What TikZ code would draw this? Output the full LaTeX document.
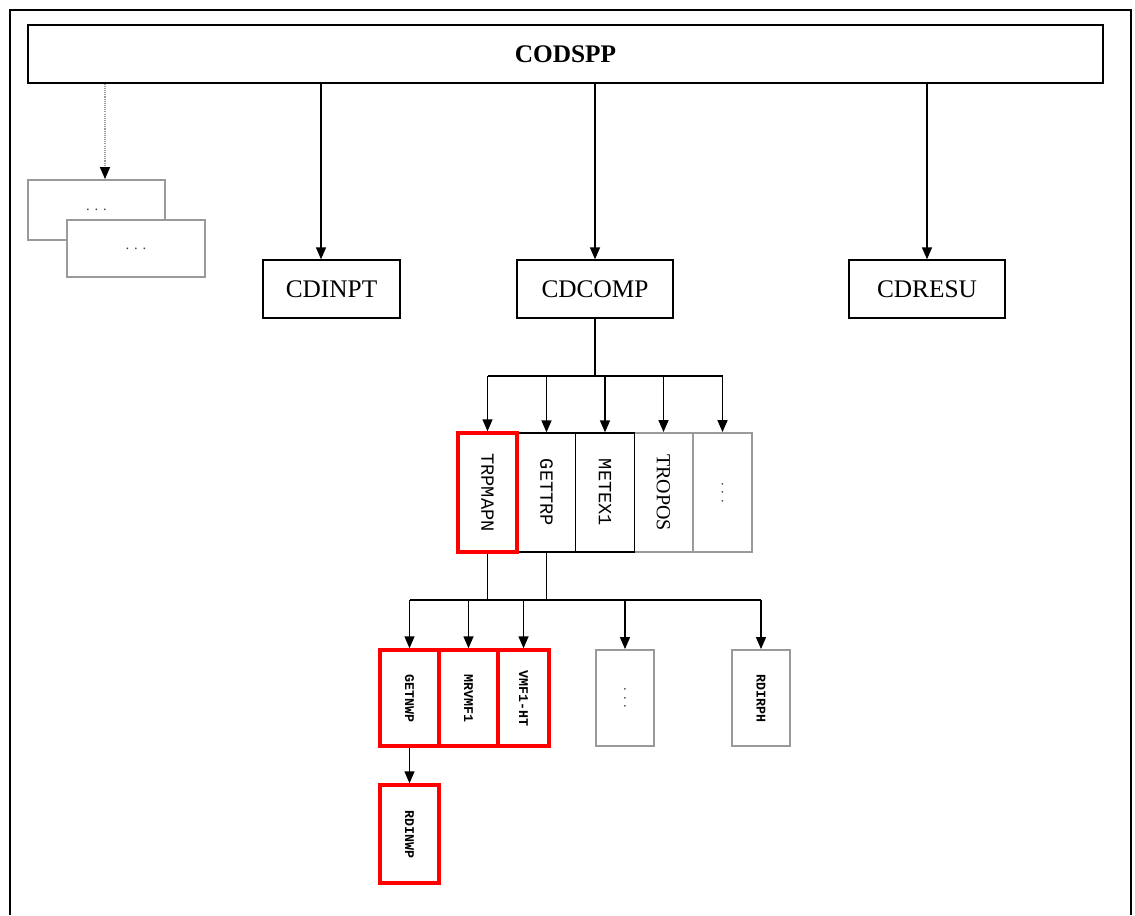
\documentclass[tikz,border=0pt]{standalone}
\usepackage{fontspec}
\setmainfont{Liberation Serif}
\setmonofont{Liberation Mono}
\usetikzlibrary{positioning,arrows.meta,calc}
\definecolor{boxred}{HTML}{FF0000}
\definecolor{boxgray}{HTML}{9A9A9A}

\begin{document}
\begin{tikzpicture}[x=0.75pt,y=-0.75pt,
    sz/.style 2 args={minimum width=#1*0.75pt,minimum height=#2*0.75pt},
    box/.style={draw,line width=1pt,inner sep=0pt,fill=white},
    greybox/.style={box,draw=boxgray,line width=1.4pt},
    redbox/.style={box,draw=boxred,line width=2.6pt},
    link/.style={line width=1.1pt},
    arr/.style={link,-{Triangle[length=9pt,width=7.5pt,color=black,fill=black]}},
    big/.style={font=\fontsize{19}{19}\selectfont},
    mid/.style={font=\ttfamily\fontsize{14}{14}\selectfont},
    small/.style={font=\ttfamily\bfseries\fontsize{10}{10}\selectfont},
    dots/.style={font=\fontsize{11}{11}\selectfont,text=black!75}]
  \useasboundingbox (0,0) rectangle (1135,915);
  \draw[line width=0.9pt] (10,915)--(10,10)--(1131,10)--(1131,915);

  % main program and first level
  \node[box,sz={1075}{58},font=\bfseries\fontsize{19}{19}\selectfont] (codspp) at (565.5,54) {CODSPP};
  \node[greybox,sz={137}{60},dots] (d1) at (96.5,210) {. . .};
  \node[greybox,sz={138}{57},dots] (d2) at (136,248.5) {. . .};
  \node[box,sz={137}{58},big] (inpt) at (331.5,289) {CDINPT};
  \node[box,sz={156}{58},big] (comp) at (595,289) {CDCOMP};
  \node[box,sz={156}{58},big] (resu) at (927,289) {CDRESU};

  % second level
  \node[greybox,sz={59}{119},font=\rmfamily\fontsize{15}{15}\selectfont] (tro) at (663.5,492.5) {\rotatebox{-90}{TROPOS}};
  \node[greybox,sz={59}{119},dots] (dt2) at (722.5,492.5) {\rotatebox{-90}{. . .}};
  \node[box,sz={59}{119},mid] (gtr) at (546.5,492.5) {\rotatebox{-90}{GETTRP}};
  \node[box,sz={59}{119},mid] (met) at (605,492.5) {\rotatebox{-90}{METEX1}};
  \node[redbox,sz={59}{119},mid] (trp) at (487.5,492.5) {\rotatebox{-90}{TRPMAPN}};

  % third level
  \node[greybox,sz={58}{96},dots] (dt3) at (625,698) {\rotatebox{-90}{. . .}};
  \node[greybox,sz={58}{96},small] (rdi) at (761,698) {\rotatebox{-90}{RDIRPH}};
  \node[redbox,sz={59}{96},small] (nwp) at (409.5,698) {\rotatebox{-90}{GETNWP}};
  \node[redbox,sz={59}{96},small] (mkv) at (468.5,698) {\rotatebox{-90}{MRVMF1}};
  \node[redbox,sz={51}{96},small] (vmf) at (523.5,698) {\rotatebox{-90}{VMF1-HT}};
  \node[redbox,sz={59}{98},small] (rdnwp) at (409.5,834) {\rotatebox{-90}{RDINWP}};

  % connectors
  \coordinate (dtip) at (105,0);
  \coordinate (itip) at (321,0);
  \draw[arr,boxgray,dash pattern=on 0.8pt off 0.8pt] (codspp.south -| dtip) -- (d1.north -| dtip);
  \draw[arr] (codspp.south -| itip) -- (inpt.north -| itip);
  \draw[arr] (codspp.south -| comp.north) -- (comp.north);
  \draw[arr] (codspp.south -| resu.north) -- (resu.north);

  \coordinate (b1) at (0,376);
  \coordinate (b2) at (0,600);
  \draw[link] (comp.south) -- (comp.south |- b1);
  \draw[link] (trp.north |- b1) -- (dt2.north |- b1);
  \foreach \n in {trp,gtr,met,tro,dt2}{\draw[arr] (\n.north |- b1) -- (\n.north);}

  \draw[link] (trp.south) -- (trp.south |- b2);
  \draw[link] (gtr.south) -- (gtr.south |- b2);
  \draw[link] (nwp.north |- b2) -- (rdi.north |- b2);
  \foreach \n in {nwp,mkv,vmf,dt3,rdi}{\draw[arr] (\n.north |- b2) -- (\n.north);}
  \draw[arr] (nwp.south) -- (rdnwp.north);
\end{tikzpicture}
\end{document}
